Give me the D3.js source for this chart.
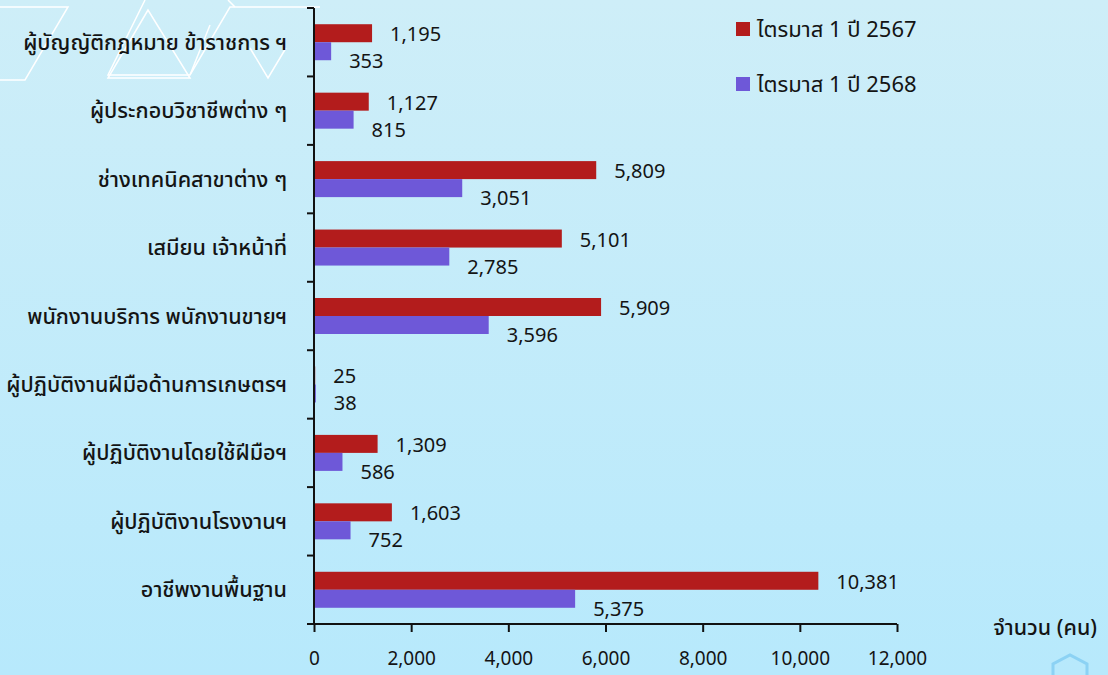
<!DOCTYPE html>
<html>
<head>
<meta charset="utf-8">
<script src="https://cdn.jsdelivr.net/npm/d3@7"></script>
<style>
  html, body { margin: 0; padding: 0; }
  body { width: 1108px; height: 675px; overflow: hidden; }
  svg text { font-family: Tahoma, "Noto Sans Thai", "Noto Sans", "DejaVu Sans", sans-serif; fill: #141414; }
</style>
</head>
<body>
<div id="chart"></div>
<script>
var categories = [
  "ผู้บัญญัติกฎหมาย ข้าราชการ ฯ",
  "ผู้ประกอบวิชาชีพต่าง ๆ",
  "ช่างเทคนิคสาขาต่าง ๆ",
  "เสมียน เจ้าหน้าที่",
  "พนักงานบริการ พนักงานขายฯ",
  "ผู้ปฏิบัติงานฝีมือด้านการเกษตรฯ",
  "ผู้ปฏิบัติงานโดยใช้ฝีมือฯ",
  "ผู้ปฏิบัติงานโรงงานฯ",
  "อาชีพงานพื้นฐาน"
];
var q1_2567 = [1195, 1127, 5809, 5101, 5909, 25, 1309, 1603, 10381];
var q1_2568 = [353, 815, 3051, 2785, 3596, 38, 586, 752, 5375];
var seriesNames = ["ไตรมาส 1 ปี 2567", "ไตรมาส 1 ปี 2568"];
var seriesColors = ["#b31c1c", "#6e58d8"];
var xTicks = [0, 2000, 4000, 6000, 8000, 10000, 12000];
var xTitle = "จำนวน (คน)";

var W = 1108, H = 675;
var svg = d3.select("#chart").append("svg")
    .attr("width", W)
    .attr("height", H);

// background
var defs = svg.append("defs");
var grad = defs.append("linearGradient").attr("id", "bg")
    .attr("x1", 0).attr("y1", 0).attr("x2", 0).attr("y2", 1);
grad.append("stop").attr("offset", "0%").attr("stop-color", "#ceeef8");
grad.append("stop").attr("offset", "100%").attr("stop-color", "#b7e9fc");
svg.append("rect").attr("width", W).attr("height", H).attr("fill", "url(#bg)");

// decorative white outlines, top left
var deco = svg.append("g").attr("fill", "none").attr("stroke", "#ffffff").attr("stroke-width", 1.5);
deco.append("path").attr("d", "M0,7 L68,7 L25,80 L0,80");
deco.append("path").attr("d", "M145,0 L108,75 L190,75 L230,7 L320,7");
deco.append("path").attr("d", "M148,10 L108,78 L190,78 Z");
deco.append("path").attr("d", "M228,0 L235,7 M250,48 L268,78 L286,48");
deco.append("path").attr("d", "M210,25 L190,75");
// bottom right hexagon hint
svg.append("path").attr("d", "M1053,675 L1053,664 L1070,655 L1087,664 L1087,675")
    .attr("fill", "none").attr("stroke", "#8cd2f4").attr("stroke-width", 3);

var plotLeft = 314, plotRight = 897, plotTop = 8, plotBottom = 624;

var x = d3.scaleLinear().domain([0, 12000]).range([plotLeft, plotRight]);
var y = d3.scaleBand().domain(d3.range(categories.length)).range([plotTop, plotBottom]);
var barH = 18;

// bars
var groups = svg.append("g").selectAll("g")
    .data(categories)
    .enter().append("g")
    .attr("transform", function(d, i) { return "translate(0," + (y(i) + y.bandwidth() / 2) + ")"; });

groups.append("rect")
    .attr("x", x(0))
    .attr("y", -barH)
    .attr("width", function(d, i) { return x(q1_2567[i]) - x(0); })
    .attr("height", barH)
    .attr("fill", seriesColors[0]);

groups.append("rect")
    .attr("x", x(0))
    .attr("y", 0)
    .attr("width", function(d, i) { return x(q1_2568[i]) - x(0); })
    .attr("height", barH)
    .attr("fill", seriesColors[1]);

var fmt = d3.format(",");
groups.append("text")
    .attr("x", function(d, i) { return x(q1_2567[i]) + 18; })
    .attr("y", -barH / 2 + 1)
    .attr("dy", "0.35em")
    .attr("font-size", 20)
    .text(function(d, i) { return fmt(q1_2567[i]); });

groups.append("text")
    .attr("x", function(d, i) { return x(q1_2568[i]) + 18; })
    .attr("y", barH / 2 + 10)
    .attr("dy", "0.35em")
    .attr("font-size", 20)
    .text(function(d, i) { return fmt(q1_2568[i]); });

// category labels
groups.append("text")
    .attr("x", 287)
    .attr("y", 0)
    .attr("dy", "0.35em")
    .attr("text-anchor", "end")
    .attr("font-size", 21.6)
    .attr("font-weight", 500)
    .text(function(d) { return d; });

// y axis with category boundary ticks
var axisG = svg.append("g").attr("stroke", "#111").attr("stroke-width", 2);
axisG.append("line").attr("x1", plotLeft).attr("x2", plotLeft).attr("y1", plotTop).attr("y2", plotBottom);
d3.range(categories.length + 1).forEach(function(i) {
    var yy = i < categories.length ? y(i) : plotBottom;
    axisG.append("line").attr("x1", plotLeft - 7).attr("x2", plotLeft).attr("y1", yy).attr("y2", yy);
});

// x axis
var xAxis = svg.append("g")
    .attr("transform", "translate(0," + plotBottom + ")")
    .call(d3.axisBottom(x).tickValues(xTicks).tickSize(8).tickPadding(20).tickFormat(fmt));
xAxis.select(".domain").attr("stroke", "#111").attr("stroke-width", 2).attr("d", "M" + (plotLeft - 7) + ",0H" + plotRight);
xAxis.selectAll(".tick line").attr("stroke", "#111").attr("stroke-width", 2).attr("y1", 0);
xAxis.selectAll(".tick text")
    .attr("font-size", 19)
    .style("font-family", "Tahoma, 'Noto Sans Thai', 'Noto Sans', sans-serif")
    .attr("fill", "#141414");

svg.append("text")
    .attr("x", 1097)
    .attr("y", 627)
    .attr("dy", "0.35em")
    .attr("text-anchor", "end")
    .attr("font-size", 21.5)
    .attr("font-weight", 500)
    .text(xTitle);

// legend
var legend = svg.append("g").selectAll("g")
    .data(seriesNames)
    .enter().append("g")
    .attr("transform", function(d, i) { return "translate(736," + (22 + i * 55) + ")"; });
legend.append("rect").attr("width", 14).attr("height", 14)
    .attr("fill", function(d, i) { return seriesColors[i]; });
legend.append("text")
    .attr("x", 21)
    .attr("y", 7)
    .attr("dy", "0.35em")
    .attr("font-size", 22)
    .text(function(d) { return d; });
</script>
</body>
</html>
